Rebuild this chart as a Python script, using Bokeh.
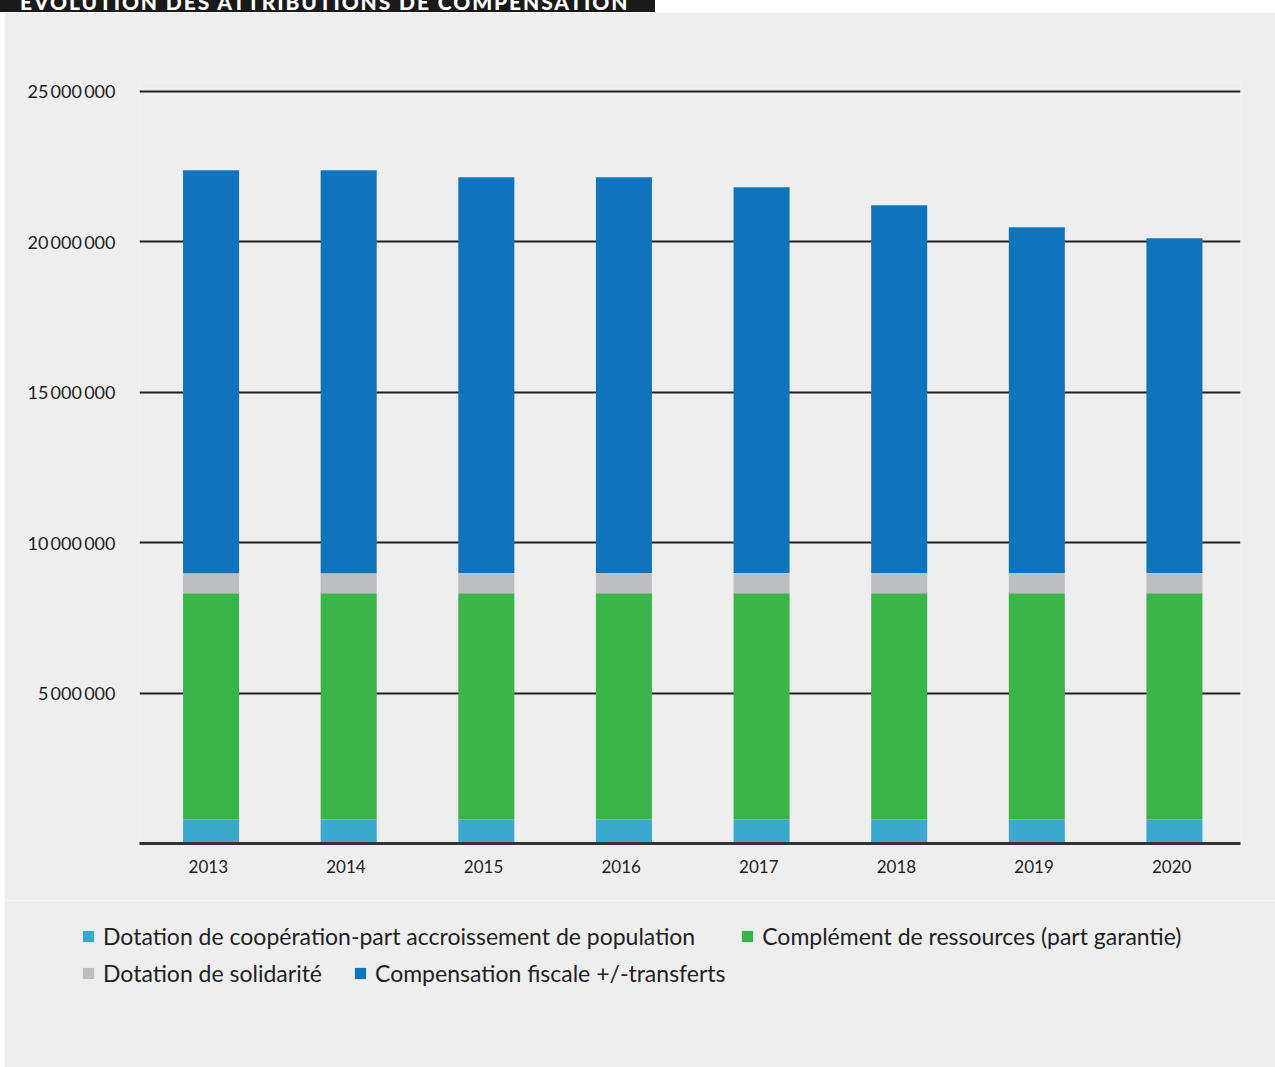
from bokeh.plotting import figure
from bokeh.models import (FactorRange, Range1d, FixedTicker, Legend, LegendItem, Div)
from bokeh.layouts import column, row
from bokeh.transform import dodge
from bokeh.embed import file_html
from bokeh.resources import INLINE

# ---- data ----
years = ["2013", "2014", "2015", "2016", "2017", "2018", "2019", "2020"]
cooperation = [800000, 800000, 800000, 800000, 800000, 800000, 800000, 800000]
complement = [7520000, 7520000, 7520000, 7520000, 7520000, 7520000, 7520000, 7520000]
solidarite = [660000, 660000, 670000, 670000, 670000, 670000, 670000, 670000]
compensation = [13390000, 13390000, 13150000, 13150000, 12820000, 12220000, 11490000, 11120000]

series = ["cooperation", "complement", "solidarite", "compensation"]
labels = [
    "Dotation de coopération-part accroissement de population",
    "Complément de ressources (part garantie)",
    "Dotation de solidarité",
    "Compensation fiscale +/-transferts",
]
colors = ["#3BA9CE", "#3BB54A", "#BDBEC1", "#1074BC"]

y_ticks = [5000000, 10000000, 15000000, 20000000, 25000000]
y_tick_labels = ["5\u2009000\u2009000", "10\u2009000\u2009000", "15\u2009000\u2009000",
                 "20\u2009000\u2009000", "25\u2009000\u2009000"]

title_text = "ÉVOLUTION DES ATTRIBUTIONS DE COMPENSATION"

FONT = "Lato"
BG = "#EEEEEE"
TXT = "#222222"

data = dict(years=years, cooperation=cooperation, complement=complement,
            solidarite=solidarite, compensation=compensation)

# ---- main chart ----
p = figure(x_range=FactorRange(*years), y_range=Range1d(0, 25290000),
           width=1271, height=888, output_backend="svg", toolbar_location=None,
           min_border_left=135, min_border_right=35, min_border_top=70,
           min_border_bottom=57)
p.background_fill_color = BG
p.border_fill_color = BG
p.outline_line_color = None
p.margin = (0, 0, 0, 0)

rs = p.vbar_stack(series, x=dodge("years", 0.02, range=p.x_range), width=0.407,
                  color=colors, line_color=None, source=data)

p.xaxis.axis_line_color = "#333333"
p.xaxis.axis_line_width = 3
p.xaxis.major_tick_line_color = None
p.xaxis.minor_tick_line_color = None
p.xaxis.major_tick_out = 0
p.xaxis.major_label_standoff = 16
p.xaxis.major_label_text_font = FONT
p.xaxis.major_label_text_font_size = "17px"
p.xaxis.major_label_text_color = TXT

p.yaxis.ticker = FixedTicker(ticks=y_ticks)
p.yaxis.major_label_overrides = {t: l for t, l in zip(y_ticks, y_tick_labels)}
p.yaxis.axis_line_color = None
p.yaxis.major_tick_line_color = None
p.yaxis.minor_tick_line_color = None
p.yaxis.major_tick_out = 0
p.yaxis.major_label_standoff = 24
p.yaxis.major_label_text_font = FONT
p.yaxis.major_label_text_font_size = "18px"
p.yaxis.major_label_text_color = TXT

p.xgrid.grid_line_color = None
p.ygrid.grid_line_color = "#231F20"
p.ygrid.grid_line_width = 2

# ---- legend panel: same stacked series, kept out of view, only its legend shows ----
lp = figure(x_range=FactorRange(*years), y_range=Range1d(-2e12, -1e12), width=1271, height=167,
            output_backend="svg", toolbar_location=None,
            x_axis_location=None, y_axis_location=None,
            min_border_left=0, min_border_right=0, min_border_top=0, min_border_bottom=0)
lp.grid.visible = False
lp.background_fill_color = BG
lp.border_fill_color = BG
lp.outline_line_color = None
lp.margin = (0, 0, 0, 0)

lrs = lp.vbar_stack(series, x="years", width=0.0, color=colors, line_color=None,
                    source=data)

def make_legend(items, loc, spacing):
    return Legend(items=items, location=loc, orientation="horizontal",
                  spacing=spacing, padding=0, margin=0,
                  glyph_width=14, glyph_height=14, label_standoff=8,
                  label_height=14,
                  label_text_font=FONT, label_text_font_size="23px",
                  label_text_color=TXT,
                  background_fill_alpha=0, border_line_color=None)

leg1 = make_legend([LegendItem(label=labels[0], renderers=[lrs[0]]),
                    LegendItem(label=labels[1], renderers=[lrs[1]])], (77, 117), 45)
leg2 = make_legend([LegendItem(label=labels[2], renderers=[lrs[2]]),
                    LegendItem(label=labels[3], renderers=[lrs[3]])], (77, 80), 31)
lp.add_layout(leg1)
lp.add_layout(leg2)

title_html = (
    '<div style="position:relative;width:655px;height:12px;background:#1A1A1A;overflow:hidden;">'
    '<span style="position:absolute;left:20px;top:-9px;font-family:Lato;font-weight:900;'
    'font-size:21px;line-height:22px;color:#FFFFFF;white-space:nowrap;letter-spacing:1.9px;">'
    + title_text + '</span></div>'
)
top = Div(text=title_html, width=1275, height=12, margin=(0, 0, 0, 0))
left1 = Div(text="", width=4, height=888, margin=(0, 0, 0, 0))
left2 = Div(text="", width=4, height=167, margin=(0, 0, 0, 0))

layout = column(top, row(left1, p, spacing=0), row(left2, lp, spacing=0), spacing=0)

open("out.html", "w").write(file_html(layout, INLINE))
